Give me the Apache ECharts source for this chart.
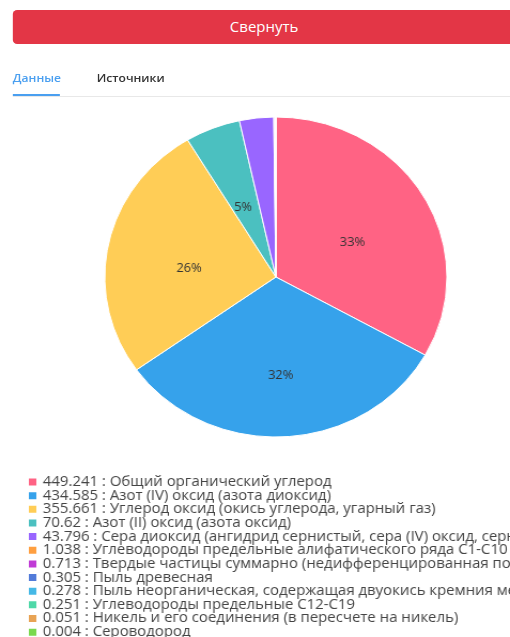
<!DOCTYPE html>
<html><head><meta charset="utf-8">
<script src="https://cdn.jsdelivr.net/npm/echarts@6/dist/echarts.min.js"></script>
<style>
html,body{margin:0;padding:0;background:#fff;overflow:hidden;width:510px;height:637px;}
#wrap{position:absolute;left:0;top:0;width:477px;height:637px;overflow:hidden;transform:scaleX(1.0692);transform-origin:0 0;font-family:"Open Sans","Noto Sans",sans-serif;}
#btn{position:absolute;left:12px;top:10px;width:470px;height:34px;background:#e33646;border-radius:4px;color:#fff;font-size:14px;line-height:34px;text-align:center;}
#t1{position:absolute;left:12px;top:70px;font-size:11.3px;font-weight:600;color:#4a9ff0;}
#t2{position:absolute;left:90.5px;top:70px;font-size:11.3px;font-weight:600;color:#333;}
#ul{position:absolute;left:12px;top:94px;width:44px;height:2px;background:#4a9ff0;}
#line{position:absolute;left:12px;top:96px;width:470px;height:1px;background:#e8e8e8;}
#chart{position:absolute;left:0;top:100px;width:477px;height:600px;}
</style></head>
<body>
<div id="wrap">
<div id="btn">Свернуть</div>
<div id="t1">Данные</div>
<div id="t2">Источники</div>
<div id="line"></div>
<div id="ul"></div>
<div id="chart"></div>
</div>
<script>
const names = [
 'Общий органический углерод',
 'Азот (IV) оксид (азота диоксид)',
 'Углерод оксид (окись углерода, угарный газ)',
 'Азот (II) оксид (азота оксид)',
 'Сера диоксид (ангидрид сернистый, сера (IV) оксид, сернистый газ)',
 'Углеводороды предельные алифатического ряда С1-С10 (алканы)',
 'Твердые частицы суммарно (недифференцированная по составу пыль/аэрозоль)',
 'Пыль древесная',
 'Пыль неорганическая, содержащая двуокись кремния менее 70%',
 'Углеводороды предельные С12-С19',
 'Никель и его соединения (в пересчете на никель)',
 'Сероводород'
];
const values = [449.241, 434.585, 355.661, 70.62, 43.796, 1.038, 0.713, 0.305, 0.278, 0.251, 0.051, 0.004];
const colors = ['#ff6384','#36a2eb','#ffcd56','#4bc0c0','#9966ff','#ff9f40','#c03bd6','#527bd9','#45b8e6','#4fd8a8','#e8a354','#7ad94e'];

const chart = echarts.init(document.getElementById('chart'), null, {renderer:'canvas'});
const data = names.map((n,i)=>({name: values[i] + ' : ' + n, value: values[i]}));
chart.setOption({
  animation:false,
  color: colors,
  legend:{
    orient:'vertical', left:20, top:370,
    itemWidth:9, itemHeight:9, itemGap:-0.35,
    icon:'rect',
    textStyle:{fontFamily:'"Open Sans","Noto Sans",sans-serif', fontSize:14, color:'#444', lineHeight:13}
  },
  series:[{
    type:'pie',
    center:[258,177], radius:[0,160],
    startAngle:90, clockwise:true,
    itemStyle:{borderColor:'#fff', borderWidth:1},
    label:{position:'inside', color:'#333', fontSize:12, lineHeight:16, fontFamily:'"Open Sans","Noto Sans",sans-serif',
      formatter: p => p.percent >= 4 ? (p.dataIndex === 1 ? '\n\n' : '\n') + Math.round(p.percent) + '%' : ''},
    labelLine:{show:false},
    emphasis:{disabled:true},
    data: data
  }]
});
</script>
</body></html>
